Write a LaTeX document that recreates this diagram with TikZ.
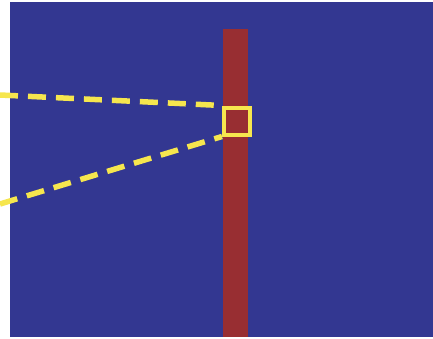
\documentclass[tikz,border=0pt]{standalone}
\definecolor{bgblue}{RGB}{51,55,145}
\definecolor{barred}{RGB}{152,46,50}
\definecolor{hlyellow}{RGB}{246,230,78}
\begin{document}
\begin{tikzpicture}[x=1pt,y=-1pt,
  zoomline/.style={hlyellow,line width=5.5pt,dash pattern=on 18pt off 10pt},
  zoombox/.style={draw=hlyellow,line width=4pt,fill=barred,minimum width=26pt,minimum height=27pt,inner sep=0pt}]
\useasboundingbox (0,0) rectangle (433,338);
\fill[white] (0,0) rectangle (433,338);
\fill[bgblue] (10,2) rectangle (433,337);
\fill[barred] (223,29) rectangle (248,337);
\node[zoombox] (sq) at (237,121) {};
\coordinate (ua) at (0,95);
\coordinate (la) at (0,204);
\draw[zoomline] (ua) -- (sq.north west);
\draw[zoomline] (la) -- (sq.south west);
\end{tikzpicture}
\end{document}
